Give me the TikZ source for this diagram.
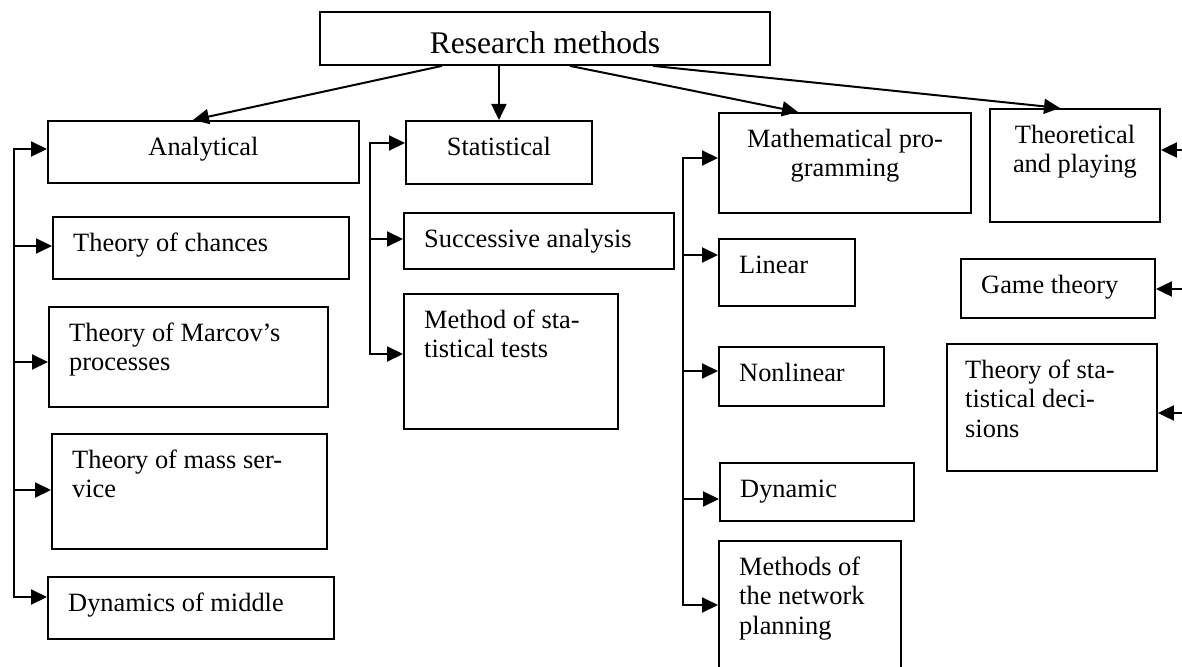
\documentclass[tikz,border=0pt]{standalone}
\usepackage{fontspec}
\setmainfont{Liberation Serif}
\usetikzlibrary{arrows.meta,calc}
% strut that fixes the distance from a box's top edge to the first baseline
\newcommand\toplead[1][35pt]{\rule{0pt}{#1}}
\tikzset{
  box/.style={draw, line width=1.9pt, inner sep=0pt, anchor=north west},
  lt/.style={inner sep=0pt, anchor=north west, align=left, font=\fontsize{26.4}{29.5}\selectfont},
  ct/.style={inner sep=0pt, anchor=north, align=center, font=\fontsize{26.4}{29.5}\selectfont},
  tip/.tip={Triangle[length=16pt,width=15pt]},
  arr/.style={line width=2pt, -tip},
  arr2/.style={line width=2pt, tip-tip},
}
\begin{document}
\begin{tikzpicture}[x=1pt,y=-1pt]
\useasboundingbox (0,0) rectangle (1182,666);

% root
\node[box, minimum width=450pt, minimum height=53pt] (title) at (319,11) {};
\node[ct, font=\fontsize{31.5}{36}\selectfont] (title-t) at (title.north) {\toplead[42pt]Research methods};

% analytical branch
\node[box, minimum width=311pt, minimum height=62pt] (ana) at (47,120) {};
\node[ct] (ana-t) at (ana.north) {\toplead Analytical};
\node[box, minimum width=296pt, minimum height=62pt] (chn) at (52,216) {};
\node[lt] (chn-t) at ([xshift=21pt]chn.north west) {\toplead Theory of chances};
\node[box, minimum width=279pt, minimum height=100pt] (mrk) at (48,306) {};
\node[lt] (mrk-t) at ([xshift=21pt]mrk.north west) {\toplead Theory of Marcov’s\\processes};
\node[box, minimum width=275pt, minimum height=115pt] (mss) at (51,433) {};
\node[lt] (mss-t) at ([xshift=21pt]mss.north west) {\toplead Theory of mass ser-\\vice};
\node[box, minimum width=286pt, minimum height=62pt] (mid) at (47,576) {};
\node[lt] (mid-t) at ([xshift=21pt]mid.north west) {\toplead Dynamics of middle};

% statistical branch
\node[box, minimum width=186pt, minimum height=63pt] (stat) at (405,120) {};
\node[ct] (stat-t) at (stat.north) {\toplead Statistical};
\node[box, minimum width=270pt, minimum height=56pt] (succ) at (403,212) {};
\node[lt] (succ-t) at ([xshift=21pt]succ.north west) {\toplead Successive analysis};
\node[box, minimum width=214pt, minimum height=135pt] (test) at (403,293) {};
\node[lt] (test-t) at ([xshift=21pt]test.north west) {\toplead Method of sta-\\tistical tests};

% mathematical programming branch
\node[box, minimum width=252pt, minimum height=100pt] (math) at (718,112) {};
\node[ct] (math-t) at (math.north) {\toplead Mathematical pro-\\gramming};
\node[box, minimum width=136pt, minimum height=67pt] (lin) at (718,238) {};
\node[lt] (lin-t) at ([xshift=21pt]lin.north west) {\toplead Linear};
\node[box, minimum width=165pt, minimum height=59pt] (nlin) at (718,346) {};
\node[lt] (nlin-t) at ([xshift=21pt]nlin.north west) {\toplead Nonlinear};
\node[box, minimum width=194pt, minimum height=58pt] (dyn) at (719,462) {};
\node[lt] (dyn-t) at ([xshift=21pt]dyn.north west) {\toplead Dynamic};
\node[box, minimum width=182pt, minimum height=130pt] (net) at (718,540) {};
\node[lt] (net-t) at ([xshift=21pt]net.north west) {\toplead Methods of\\the network\\planning};

% game-theoretic branch
\node[box, minimum width=170pt, minimum height=113pt] (theo) at (989,108) {};
\node[ct] (theo-t) at (theo.north) {\toplead Theoretical\\and playing};
\node[box, minimum width=194pt, minimum height=59pt] (game) at (960,258) {};
\node[lt] (game-t) at ([xshift=21pt]game.north west) {\toplead Game theory};
\node[box, minimum width=210pt, minimum height=127pt] (dec) at (946,343) {};
\node[lt] (dec-t) at ([xshift=19pt]dec.north west) {\toplead Theory of sta-\\tistical deci-\\sions};

% arrows from the root
\draw[arr] ([xshift=123pt]title.south west) -- ([xshift=146pt]ana.north west);
\draw[arr] (title.south -| stat.north) -- (stat.north);
\draw[arr] ([xshift=251pt]title.south west) -- ([xshift=80pt]math.north west);
\draw[arr] ([xshift=334pt]title.south west) -- ([xshift=71pt]theo.north west);

% left bus
\coordinate (L1) at (13.5,149);
\coordinate (L2) at (13.5,246);
\coordinate (L3) at (13.5,362);
\coordinate (L4) at (13.5,490);
\coordinate (L5) at (13.5,597);
\draw[arr2] (L1 -| ana.west) -- (L1) -- (L5) -- (L5 -| mid.west);
\draw[arr] (L2) -- (L2 -| chn.west);
\draw[arr] (L3) -- (L3 -| mrk.west);
\draw[arr] (L4) -- (L4 -| mss.west);

% statistical bus
\coordinate (S1) at (370,143);
\coordinate (S2) at (370,239);
\coordinate (S3) at (370,354);
\draw[arr2] (S1 -| stat.west) -- (S1) -- (S3) -- (S3 -| test.west);
\draw[arr] (S2) -- (S2 -| succ.west);

% programming bus
\coordinate (M1) at (683,158);
\coordinate (M2) at (683,255);
\coordinate (M3) at (683,371);
\coordinate (M4) at (683,499);
\coordinate (M5) at (683,605);
\draw[arr2] (M1 -| math.west) -- (M1) -- (M5) -- (M5 -| net.west);
\draw[arr] (M2) -- (M2 -| lin.west);
\draw[arr] (M3) -- (M3 -| nlin.west);
\draw[arr] (M4) -- (M4 -| dyn.west);

% feeds entering from the right edge
\coordinate (R1) at (1186,150);
\coordinate (R2) at (1186,289);
\coordinate (R3) at (1186,413);
\draw[arr] (R1) -- (R1 -| theo.east);
\draw[arr] (R2) -- (R2 -| game.east);
\draw[arr] (R3) -- (R3 -| dec.east);
\end{tikzpicture}
\end{document}
